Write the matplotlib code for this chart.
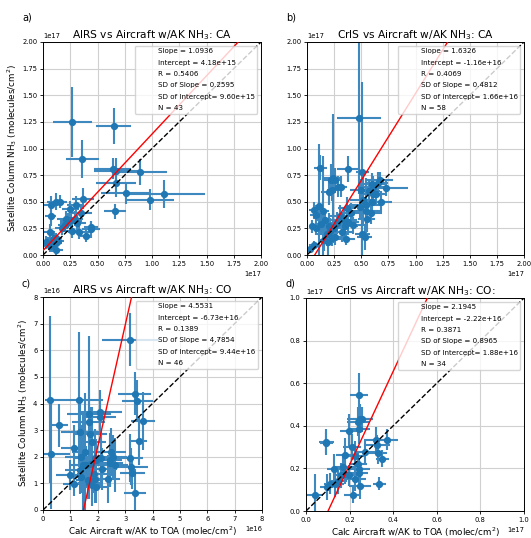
import numpy as np
import matplotlib
matplotlib.use("Agg")
import matplotlib.pyplot as plt
from matplotlib.lines import Line2D

# ---------------- data (values in units of the axis offset) ----------------
# Panel a: AIRS vs Aircraft, CA (x1e17)
a_x = [0.27, 0.65, 0.36, 0.64, 0.67, 0.89, 0.67, 0.76, 1.11, 0.98, 0.66, 0.37, 0.30, 0.12, 0.16,
       0.07, 0.07, 0.25, 0.21, 0.26, 0.29, 0.31, 0.35, 0.27, 0.33, 0.44, 0.44, 0.39, 0.06, 0.17,
       0.03, 0.09, 0.10, 0.12, 0.12, 0.06, 0.08, 0.20, 0.23, 0.14, 0.09, 0.22, 0.12]
a_y = [1.25, 1.21, 0.90, 0.81, 0.79, 0.78, 0.68, 0.58, 0.57, 0.52, 0.41, 0.53, 0.47, 0.50, 0.50,
       0.47, 0.37, 0.43, 0.34, 0.33, 0.34, 0.30, 0.39, 0.23, 0.22, 0.26, 0.24, 0.18, 0.22, 0.25,
       0.12, 0.14, 0.16, 0.11, 0.05, 0.08, 0.09, 0.28, 0.32, 0.13, 0.11, 0.30, 0.16]
a_xerr = [0.18, 0.16, 0.15, 0.17, 0.20, 0.25, 0.18, 0.23, 0.38, 0.22, 0.10, 0.10, 0.08, 0.08, 0.06,
          0.06, 0.05, 0.08, 0.08, 0.10, 0.08, 0.08, 0.10, 0.09, 0.10, 0.06, 0.08, 0.06, 0.05, 0.06,
          0.04, 0.05, 0.06, 0.05, 0.06, 0.06, 0.05, 0.06, 0.07, 0.05, 0.06, 0.06, 0.05]
a_yerr = [0.33, 0.17, 0.18, 0.10, 0.12, 0.12, 0.14, 0.10, 0.13, 0.10, 0.07, 0.10, 0.08, 0.08, 0.06,
          0.08, 0.10, 0.08, 0.07, 0.08, 0.07, 0.08, 0.09, 0.07, 0.07, 0.06, 0.08, 0.06, 0.07, 0.06,
          0.06, 0.06, 0.05, 0.05, 0.05, 0.05, 0.06, 0.06, 0.07, 0.05, 0.05, 0.06, 0.05]
a_stats = ["Slope = 1.0936", "Intercept = 4.18e+15", "R = 0.5406",
           "SD of Slope = 0.2595", "SD of Intercept= 9.60e+15", "N = 43"]
a_fit = (1.0936, 4.18e15)

# Panel b: CrIS vs Aircraft, CA (x1e17)
b_x = [0.48, 0.51, 0.38, 0.12, 0.24, 0.22, 0.26, 0.20, 0.23, 0.29, 0.11, 0.06, 0.08, 0.05, 0.08,
       0.15, 0.17, 0.20, 0.21, 0.18, 0.16, 0.23, 0.26, 0.32, 0.35, 0.38, 0.34, 0.30, 0.37, 0.41,
       0.03, 0.06, 0.51, 0.53, 0.52, 0.54, 0.55, 0.54, 0.59, 0.61, 0.60, 0.65, 0.67, 0.61, 0.73,
       0.60, 0.68, 0.50, 0.49, 0.31, 0.13, 0.19, 0.25, 0.28, 0.57, 0.64, 0.36, 0.42]
b_y = [1.29, 0.78, 0.81, 0.82, 0.72, 0.70, 0.70, 0.59, 0.61, 0.64, 0.46, 0.42, 0.38, 0.27, 0.25,
       0.41, 0.33, 0.27, 0.23, 0.20, 0.14, 0.16, 0.17, 0.22, 0.27, 0.31, 0.33, 0.37, 0.44, 0.39,
       0.06, 0.09, 0.20, 0.17, 0.52, 0.47, 0.34, 0.41, 0.39, 0.64, 0.67, 0.68, 0.70, 0.57, 0.63,
       0.50, 0.50, 0.61, 0.45, 0.64, 0.29, 0.12, 0.25, 0.30, 0.60, 0.57, 0.15, 0.28]
b_xerr = [0.20, 0.06, 0.10, 0.06, 0.08, 0.07, 0.06, 0.07, 0.05, 0.06, 0.05, 0.04, 0.05, 0.03, 0.04,
          0.05, 0.08, 0.10, 0.08, 0.10, 0.06, 0.06, 0.08, 0.10, 0.12, 0.10, 0.12, 0.10, 0.08, 0.10,
          0.03, 0.03, 0.07, 0.07, 0.12, 0.15, 0.08, 0.15, 0.10, 0.14, 0.12, 0.10, 0.12, 0.10, 0.20,
          0.12, 0.10, 0.10, 0.08, 0.06, 0.05, 0.06, 0.06, 0.07, 0.10, 0.08, 0.08, 0.10]
b_yerr = [0.72, 0.84, 0.12, 0.12, 0.60, 0.15, 0.12, 0.12, 0.10, 0.10, 0.58, 0.08, 0.08, 0.06, 0.06,
          0.52, 0.10, 0.12, 0.12, 0.12, 0.10, 0.08, 0.08, 0.10, 0.10, 0.12, 0.12, 0.10, 0.10, 0.10,
          0.04, 0.04, 0.20, 0.12, 0.25, 0.25, 0.12, 0.25, 0.10, 0.10, 0.10, 0.10, 0.08, 0.10, 0.08,
          0.10, 0.10, 0.10, 0.12, 0.10, 0.10, 0.12, 0.08, 0.10, 0.10, 0.10, 0.06, 0.08]
b_stats = ["Slope = 1.6326", "Intercept = -1.16e+16", "R = 0.4069",
           "SD of Slope = 0.4812", "SD of Intercept= 1.66e+16", "N = 58"]
b_fit = (1.6326, -1.16e16)

# Panel c: AIRS vs Aircraft, CO (x1e16)
c_x = [3.19, 0.27, 0.28, 0.60, 1.30, 3.35, 3.45, 3.65, 3.50, 1.68, 2.09, 2.10, 1.67, 1.34, 1.73,
       1.80, 1.12, 1.40, 1.89, 2.13, 2.50, 2.56, 2.44, 2.62, 3.17, 3.23, 3.26, 3.35, 0.97, 1.12,
       1.38, 1.46, 1.64, 1.67, 1.80, 1.92, 1.89, 2.37, 2.17, 1.58, 1.75, 1.52, 2.44, 1.95, 1.85,
       1.34]
c_y = [6.40, 4.15, 2.12, 3.18, 4.15, 4.37, 4.09, 3.34, 2.59, 3.62, 3.69, 3.50, 3.29, 2.94, 2.87,
       2.56, 2.31, 2.00, 1.96, 1.96, 2.19, 2.00, 1.88, 1.69, 1.96, 1.63, 1.38, 0.65, 1.31, 0.96,
       1.25, 1.69, 1.13, 1.00, 0.94, 0.88, 1.15, 1.15, 1.54, 1.69, 1.71, 2.19, 1.75, 1.88, 1.34,
       1.50]
c_xerr = [1.05, 0.20, 0.70, 0.30, 0.90, 0.60, 0.55, 0.45, 0.30, 0.80, 0.80, 0.55, 0.60, 0.70, 0.60,
          0.50, 0.45, 0.60, 0.80, 0.60, 0.55, 0.50, 0.45, 0.50, 0.50, 0.60, 0.45, 0.40, 0.50, 0.40,
          0.45, 0.50, 0.45, 0.40, 0.40, 0.50, 0.60, 0.45, 0.55, 0.50, 0.45, 0.45, 0.50, 0.55, 0.60,
          0.55]
c_yerr = [1.00, 3.15, 2.10, 0.80, 2.55, 0.80, 0.80, 1.10, 0.90, 2.90, 0.80, 0.60, 1.20, 1.10, 1.00,
          1.30, 0.90, 1.20, 1.10, 1.00, 0.90, 0.80, 1.00, 1.00, 0.90, 0.70, 0.60, 0.90, 0.55, 0.45,
          0.60, 2.00, 0.70, 0.60, 0.80, 0.60, 0.90, 0.90, 0.80, 0.70, 0.80, 2.20, 0.90, 0.80, 0.70,
          0.90]
c_stats = ["Slope = 4.5531", "Intercept = -6.73e+16", "R = 0.1389",
           "SD of Slope = 4.7854", "SD of Intercept= 9.44e+16", "N = 46"]
c_fit = (4.5531, -6.73e16)

# Panel d: CrIS vs Aircraft, CO (x1e17)
d_x = [0.244, 0.249, 0.240, 0.256, 0.245, 0.093, 0.094, 0.195, 0.210, 0.322, 0.370, 0.325, 0.330,
       0.350, 0.270, 0.177, 0.223, 0.238, 0.244, 0.245, 0.172, 0.162, 0.180, 0.195, 0.226, 0.127,
       0.134, 0.111, 0.096, 0.146, 0.249, 0.214, 0.337, 0.040]
d_y = [0.546, 0.434, 0.420, 0.430, 0.386, 0.324, 0.320, 0.374, 0.300, 0.335, 0.335, 0.308, 0.270,
       0.245, 0.277, 0.264, 0.257, 0.222, 0.199, 0.178, 0.208, 0.167, 0.175, 0.167, 0.152, 0.196,
       0.128, 0.128, 0.113, 0.139, 0.117, 0.077, 0.128, 0.074]
d_xerr = [0.040, 0.060, 0.050, 0.040, 0.050, 0.035, 0.030, 0.040, 0.040, 0.050, 0.050, 0.060, 0.040,
          0.030, 0.050, 0.040, 0.050, 0.040, 0.050, 0.040, 0.050, 0.040, 0.040, 0.040, 0.050, 0.030,
          0.040, 0.030, 0.030, 0.040, 0.050, 0.040, 0.030, 0.040]
d_yerr = [0.100, 0.070, 0.070, 0.060, 0.070, 0.060, 0.050, 0.080, 0.060, 0.060, 0.050, 0.050, 0.050,
          0.040, 0.060, 0.080, 0.070, 0.060, 0.050, 0.060, 0.060, 0.060, 0.050, 0.050, 0.060, 0.070,
          0.060, 0.050, 0.060, 0.060, 0.060, 0.040, 0.030, 0.100]
d_stats = ["Slope = 2.1945", "Intercept = -2.22e+16", "R = 0.3871",
           "SD of Slope = 0.8965", "SD of Intercept= 1.88e+16", "N = 34"]
d_fit = (2.1945, -2.22e16)

panels = [
    dict(tag="a)", title="AIRS vs Aircraft w/AK NH$_3$: CA", x=a_x, y=a_y, xerr=a_xerr, yerr=a_yerr,
         scale=1e17, lim=2.0, ticks=np.arange(0, 2.01, 0.25), stats=a_stats, fit=a_fit),
    dict(tag="b)", title="CrIS vs Aircraft w/AK NH$_3$: CA", x=b_x, y=b_y, xerr=b_xerr, yerr=b_yerr,
         scale=1e17, lim=2.0, ticks=np.arange(0, 2.01, 0.25), stats=b_stats, fit=b_fit),
    dict(tag="c)", title="AIRS vs Aircraft w/AK NH$_3$: CO", x=c_x, y=c_y, xerr=c_xerr, yerr=c_yerr,
         scale=1e16, lim=8.0, ticks=np.arange(0, 8.01, 1), stats=c_stats, fit=c_fit),
    dict(tag="d)", title="CrIS vs Aircraft w/AK NH$_3$: CO:", x=d_x, y=d_y, xerr=d_xerr, yerr=d_yerr,
         scale=1e17, lim=1.0, ticks=np.arange(0, 1.01, 0.2), stats=d_stats, fit=d_fit),
]

W, H = 531, 538
fig = plt.figure(figsize=(W / 100, H / 100), dpi=100)
boxes = [(43, 42, 261, 255), (307, 42, 524, 255), (43, 297, 262, 510), (306, 298, 524, 511)]

TICK_FS = 4.9
for p, (l, t, r, b) in zip(panels, boxes):
    ax = fig.add_axes([l / W, 1 - b / H, (r - l) / W, (b - t) / H])
    s = p["scale"]
    x = np.array(p["x"]) * s
    y = np.array(p["y"]) * s
    ax.grid(True, color="#d0d0d0", linewidth=0.8, zorder=0)
    ax.set_axisbelow(True)
    ax.errorbar(x, y, xerr=np.array(p["xerr"]) * s, yerr=np.array(p["yerr"]) * s,
                fmt="o", color="#1f77b4", ecolor="#3d88be", elinewidth=1.5, markersize=4.2,
                zorder=2)
    lim = p["lim"] * s
    xx = np.array([0, lim])
    ax.plot(xx, p["fit"][0] * xx + p["fit"][1], color="red", linewidth=1.0, zorder=3)
    ax.plot(xx, xx, "k--", linewidth=1.0, zorder=3)
    ax.set_xlim(0, lim)
    ax.set_ylim(0, lim)
    ax.set_xticks(p["ticks"] * s)
    ax.set_yticks(p["ticks"] * s)
    ax.tick_params(labelsize=TICK_FS, length=2.5, width=0.6, pad=1.5)
    ax.xaxis.get_offset_text().set_fontsize(TICK_FS)
    ax.yaxis.get_offset_text().set_fontsize(TICK_FS)
    for sp in ax.spines.values():
        sp.set_linewidth(0.7)
    ax.set_title(p["title"], fontsize=7.7, pad=3)
    handles = [Line2D([], [], linestyle="none") for _ in p["stats"]]
    leg = ax.legend(handles, p["stats"], loc="upper right", fontsize=5.1, labelspacing=0.75,
                    borderaxespad=0.5, framealpha=0.8)
    leg.set_zorder(5)
    fig.text((l - 21) / W, 1 - 17 / H if t < 100 else 1 - 283 / H, p["tag"], fontsize=7,
             ha="left", va="center")

fig.axes[0].set_ylabel("Satellite Column NH$_3$ (molecules/cm$^2$)", fontsize=6.3, labelpad=2)
fig.axes[2].set_ylabel("Satellite Column NH$_3$ (molecules/cm$^2$)", fontsize=6.3, labelpad=2)
fig.axes[2].set_xlabel("Calc Aircraft w/AK to TOA (molec/cm$^2$)", fontsize=6.3, labelpad=2)
fig.axes[3].set_xlabel("Calc Aircraft w/AK to TOA (molec/cm$^2$)", fontsize=6.3, labelpad=2)

fig.savefig("out.png", dpi=100)
